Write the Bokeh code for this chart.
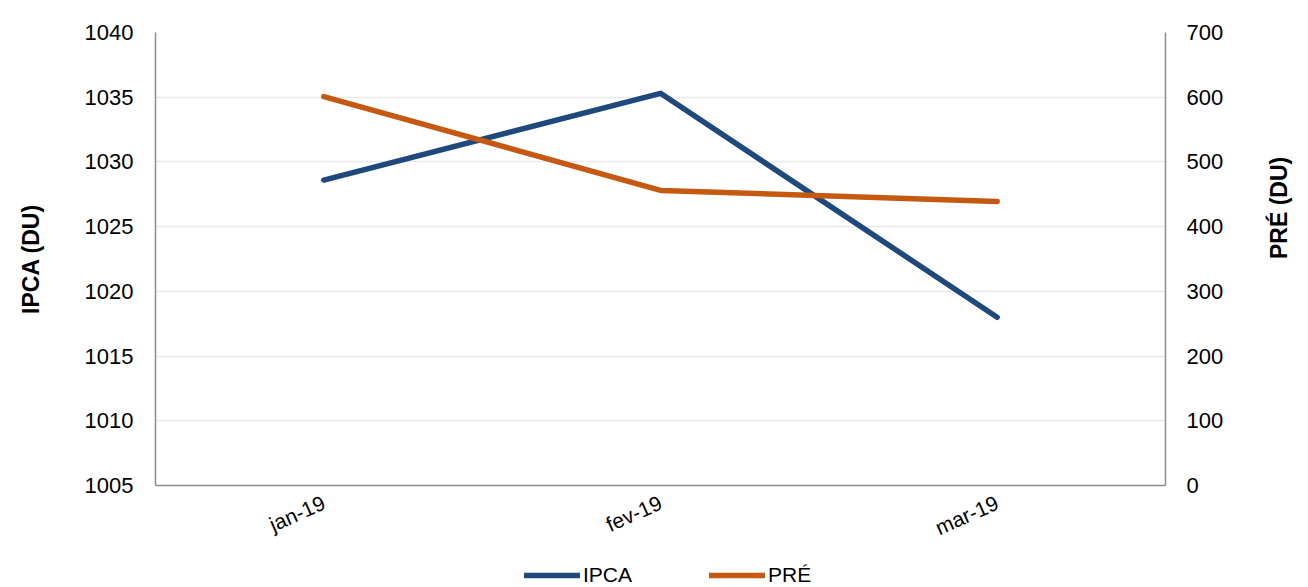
import math
from bokeh.plotting import figure
from bokeh.layouts import column
from bokeh.models import (FactorRange, Range1d, LinearAxis, FixedTicker,
                          Legend, LegendItem, ColumnDataSource)
from bokeh.embed import file_html
from bokeh.resources import INLINE

# ---- data ----
months = ["jan-19", "fev-19", "mar-19"]
ipca = [1028.6, 1035.3, 1018.0]
pre = [601, 456, 439]
left_ticks = [1005, 1010, 1015, 1020, 1025, 1030, 1035, 1040]
right_ticks = [0, 100, 200, 300, 400, 500, 600, 700]
series_names = ["IPCA", "PRÉ"]

FONT = "Liberation Sans"
BLUE = "#1F497D"
ORANGE = "#C65911"
AXIS_GRAY = "#8C8C8C"
LW = 5.5

src = ColumnDataSource(data=dict(m=months, ipca=ipca, pre=pre))

p = figure(width=1308, height=552, x_range=FactorRange(*months),
           y_range=Range1d(1005, 1040), output_backend="svg",
           toolbar_location=None,
           min_border_left=155, min_border_right=143,
           min_border_top=32, min_border_bottom=67)
p.outline_line_color = None
p.background_fill_color = "white"
p.border_fill_color = "white"

p.extra_y_ranges = {"pre": Range1d(0, 700)}

r1 = p.line("m", "ipca", source=src, line_color=BLUE, line_width=LW,
            line_cap="round", line_join="round")
r2 = p.line("m", "pre", source=src, y_range_name="pre", line_color=ORANGE,
            line_width=LW, line_cap="round", line_join="round")

# grid
p.xgrid.visible = False
p.ygrid.ticker = FixedTicker(ticks=left_ticks)
p.ygrid.grid_line_color = "#E9E9E9"
p.ygrid.grid_line_width = 1.5


def style_axis(ax):
    ax.major_tick_line_color = None
    ax.minor_tick_line_color = None
    ax.major_tick_out = 0
    ax.major_tick_in = 0
    ax.minor_tick_out = 0
    ax.minor_tick_in = 0
    ax.axis_line_color = AXIS_GRAY
    ax.axis_line_width = 1.5
    ax.major_label_text_font = FONT
    ax.major_label_text_color = "black"


# left axis
ya = p.yaxis[0]
style_axis(ya)
ya.ticker = FixedTicker(ticks=left_ticks)
ya.axis_label = "IPCA (DU)"
ya.axis_label_text_font = FONT
ya.axis_label_text_font_style = "bold"
ya.axis_label_text_font_size = "23px"
ya.axis_label_text_color = "black"
ya.axis_label_standoff = 38
ya.major_label_text_font_size = "22px"
ya.major_label_standoff = 22

# right axis
ra = LinearAxis(y_range_name="pre", ticker=FixedTicker(ticks=right_ticks))
style_axis(ra)
ra.axis_label = "PRÉ (DU)"
ra.axis_label_text_font = FONT
ra.axis_label_text_font_style = "bold"
ra.axis_label_text_font_size = "23px"
ra.axis_label_text_color = "black"
ra.axis_label_text_line_height = 1.0
ra.axis_label_standoff = 53
if "axis_label_orientation" in ra.properties():
    ra.axis_label_orientation = math.pi / 2
ra.major_label_text_font_size = "22px"
ra.major_label_standoff = 21
p.add_layout(ra, "right")

# x axis
xa = p.xaxis[0]
style_axis(xa)
xa.major_label_orientation = 0.42
xa.major_label_text_font_size = "21px"
xa.major_label_standoff = 16

# ---- legend strip (separate small figure below the chart) ----
lg = figure(width=1308, height=35, x_range=FactorRange(*months),
            y_range=Range1d(1005, 1040),
            output_backend="svg", toolbar_location=None,
            x_axis_type=None, y_axis_type=None, min_border=0)
lg.outline_line_color = None
lg.grid.visible = False
l1 = lg.line("m", "ipca", source=src, line_color=BLUE, line_width=LW,
             line_cap="round", visible=False)
l2 = lg.line("m", "pre", source=src, line_color=ORANGE, line_width=LW,
             line_cap="round", visible=False)
legend = Legend(items=[LegendItem(label=series_names[0], renderers=[l1]),
                       LegendItem(label=series_names[1], renderers=[l2])],
                orientation="horizontal", location=(369, 0),
                glyph_width=56, glyph_height=22, spacing=77,
                label_standoff=3, padding=0, margin=0,
                label_text_font=FONT, label_text_font_size="21px",
                label_text_color="black",
                border_line_color=None, background_fill_alpha=0)
lg.add_layout(legend, "center")

layout = column(p, lg, spacing=0)
open("out.html", "w").write(file_html(layout, INLINE))
